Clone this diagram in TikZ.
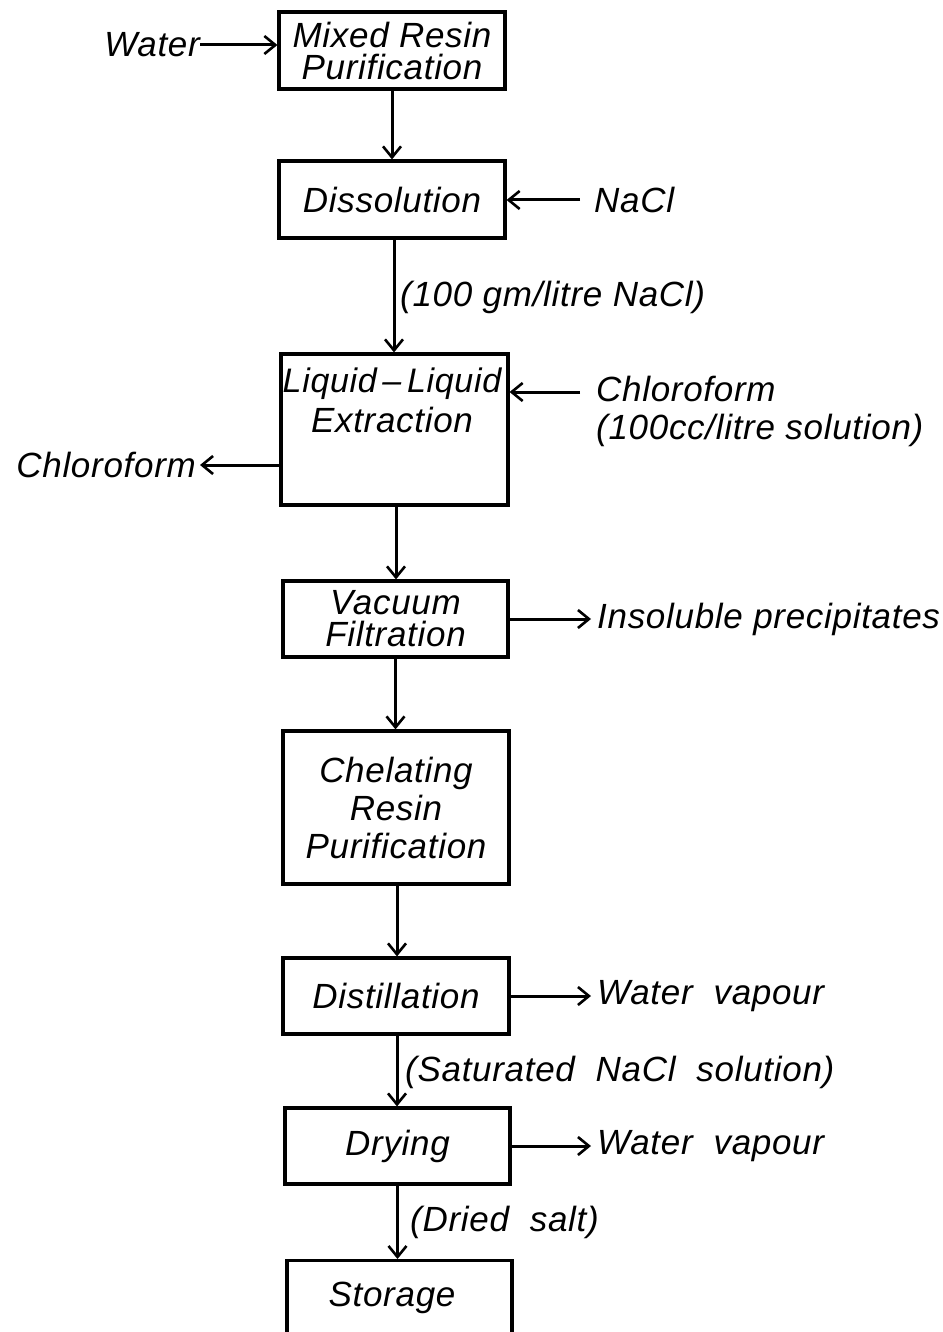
\documentclass[tikz,border=0pt]{standalone}
\usepackage{fontspec}
\setmainfont{Liberation Sans}[LetterSpace=2]
\usetikzlibrary{arrows.meta}
\begin{document}
\begin{tikzpicture}[x=1pt,y=-1pt,
  box/.style={draw,line width=3.2pt,minimum width=226pt,inner sep=0pt,align=center,
    font=\fontsize{35}{36}\selectfont\itshape},
  lbl/.style={inner sep=0pt,align=left,font=\fontsize{35}{38}\selectfont\itshape},
  flow/.style={line width=3pt,-{Straight Barb[length=11pt,width=18pt,line width=2.6pt]}}]
\clip (0,0) rectangle (942,1332);
\fill[white] (0,0) rectangle (942,1332);
% boxes
\node[box,minimum height=77pt] (b1) at (392,50.5) {Mixed Resin\\[-4pt]Purification};
\node[box,minimum height=77pt] (b2) at (392,199.5) {Dissolution};
\node[box,minimum height=151pt,minimum width=227pt] (b3) at (394.5,429.5) {};
\node[lbl,align=center,font=\fontsize{35}{40}\selectfont\itshape] (b3t) at (392,400) {{\fontsize{34}{40}\selectfont Liquid\,--\,Liquid}\\Extraction};
\node[box,minimum height=76pt,minimum width=225pt] (b4) at (395.5,619) {Vacuum\\[-4pt]Filtration};
\node[box,minimum height=153pt,font=\fontsize{35}{38}\selectfont\itshape] (b5) at (396,807.5) {Chelating\\Resin\\Purification};
\node[box,minimum height=76pt] (b6) at (396,996) {Distillation};
\node[box,minimum height=76pt,minimum width=225pt] (b7) at (397.5,1146) {Drying};
\node[box,minimum height=90pt,minimum width=225pt,anchor=north] (b8) at (399.5,1259) {};
\node[lbl] (b8t) at (392,1298) {Storage};
% vertical flow
\draw[flow] (b1.south) -- (b1.south |- b2.north);
\draw[flow] ([xshift=2pt]b2.south) -- ([xshift=2pt]b2.south |- b3.north);
\draw[flow] ([xshift=1.5pt]b3.south) -- ([xshift=1.5pt]b3.south |- b4.north);
\draw[flow] (b4.south) -- (b4.south |- b5.north);
\draw[flow] ([xshift=1pt]b5.south) -- ([xshift=1pt]b5.south |- b6.north);
\draw[flow] ([xshift=1pt]b6.south) -- ([xshift=1pt]b6.south |- b7.north);
\draw[flow] (b7.south) -- (b7.south |- b8.north);
% side labels
\node[lbl,anchor=east] (water) at (200,45) {Water};
\draw[flow] (water.east) -- (water.east -| b1.west);
\node[lbl,anchor=west] (nacl) at (594,200) {NaCl};
\coordinate (nacls) at (580,200);
\draw[flow] (nacls) -- (nacls -| b2.east);
\node[lbl,anchor=west] (q1) at (400,297) {(100 gm/litre NaCl)};
\node[lbl,anchor=north west,font=\fontsize{35}{38}\selectfont\itshape] (chin) at (596,376) {Chloroform\\(100cc/litre solution)};
\coordinate (chins) at (580,392);
\draw[flow] (chins) -- (chins -| b3.east);
\node[lbl,anchor=east] (chout) at (196,465) {Chloroform};
\draw[flow] (b3.west |- chout.east) -- ([xshift=4pt]chout.east);
\node[lbl,anchor=west] (insol) at (597,619) {Insoluble precipitates};
\draw[flow] (b4.east) -- ([xshift=-6pt]insol.west);
\node[lbl,anchor=west] (wv1) at (597,996) {Water\ \ vapour};
\draw[flow] (b6.east) -- ([xshift=-6pt]wv1.west);
\node[lbl,anchor=west] (q2) at (405,1072) {(Saturated\ \ NaCl\ \ solution)};
\node[lbl,anchor=west] (wv2) at (597,1146) {Water\ \ vapour};
\draw[flow] (b7.east) -- ([xshift=-6pt]wv2.west);
\node[lbl,anchor=west] (q3) at (410,1222) {(Dried\ \ salt)};
\end{tikzpicture}
\end{document}
